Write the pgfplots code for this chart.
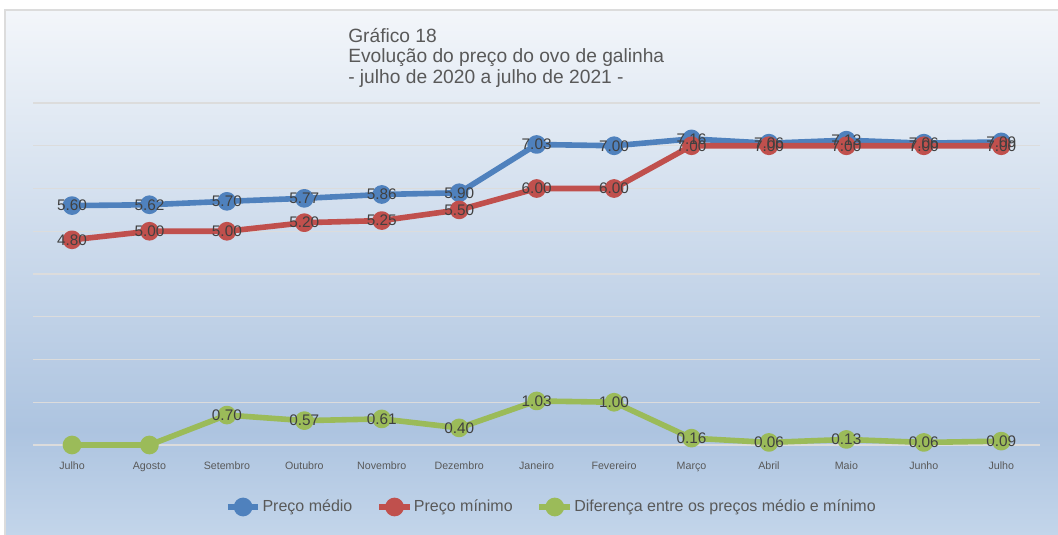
\documentclass[border=0pt]{standalone}
\usepackage{pgfplots}
\pgfplotsset{compat=1.18}
\usepackage{fontspec}
\setmainfont{Liberation Sans}
\definecolor{cblue}{HTML}{4F81BD}
\definecolor{cred}{HTML}{C0504D}
\definecolor{cgreen}{HTML}{9BBB59}
\definecolor{ctext}{HTML}{595959}
\definecolor{clabel}{HTML}{404040}
\definecolor{cgrid}{HTML}{DCDCDC}
\definecolor{bgtop}{HTML}{F3F6FA}
\definecolor{bgmid}{HTML}{ADC4E0}
\definecolor{bgbot}{HTML}{C3D5EA}
\begin{document}
\begin{tikzpicture}
\useasboundingbox (0,0) rectangle (793.5pt,401.25pt);
\fill[white] (0,0) rectangle (793.5pt,401.25pt);
\shade[top color=bgtop, bottom color=bgmid] (3.75pt,78.75pt) rectangle (793.5pt,393.75pt);
\shade[top color=bgmid, bottom color=bgbot] (3.75pt,0pt) rectangle (793.5pt,78.75pt);
\draw[cgrid, line width=1.5pt] (3.75pt,0pt) -- (3.75pt,393.75pt) -- (793.5pt,393.75pt);
\node[anchor=base west, inner sep=0pt, text=ctext, font=\fontsize{14.4}{16}\selectfont] at (261pt,369.5pt) {Gráfico 18};
\node[anchor=base west, inner sep=0pt, text=ctext, font=\fontsize{14.4}{16}\selectfont] at (261pt,354.0pt) {Evolução do preço do ovo de galinha};
\node[anchor=base west, inner sep=0pt, text=ctext, font=\fontsize{14.4}{16}\selectfont] at (261pt,338.5pt) {- julho de 2020 a julho de 2021 -};
\begin{axis}[
  at={(24.975pt,67.5pt)}, anchor=south west,
  scale only axis, width=755pt, height=256.5pt,
  xmin=-0.5, xmax=12.5, ymin=0, ymax=8,
  clip=false,
  axis line style={draw=none},
  major tick length=0pt,
  ytick={0,1,...,8}, yticklabels={},
  ymajorgrids, grid style={cgrid, line width=1pt},
  xtick={0,1,...,12},
  xticklabels={Julho,Agosto,Setembro,Outubro,Novembro,Dezembro,Janeiro,Fevereiro,Março,Abril,Maio,Junho,Julho},
  xticklabel style={font=\fontsize{8}{9}\selectfont, text=ctext, anchor=base, yshift=-18.5pt},
  legend style={at={(0.5143,-0.1813)}, anchor=center, draw=none, fill=none,
    font=\fontsize{12}{14}\selectfont, text=ctext, legend columns=3,
    nodes={inner xsep=1pt},
    /tikz/every even column/.append style={column sep=17pt}},
  legend image code/.code={\draw[mark repeat=2,mark phase=2,#1] plot coordinates {(0pt,0pt) (11.5pt,0pt) (23pt,0pt)};},
  every axis plot/.append style={line width=4.2pt, line join=round, mark=*, mark size=4.9pt},
  lab/.style={draw=none, mark=none, forget plot, point meta=y,
    nodes near coords={\pgfmathprintnumber[fixed,fixed zerofill,precision=2,assume math mode=true]{\pgfplotspointmeta}},
    every node near coord/.append style={anchor=center, inner sep=0pt, text=clabel, font=\fontsize{11.5}{13}\selectfont}},
]
\addplot[cblue, mark options={draw=none, fill=cblue}] coordinates {(0,5.60)(1,5.62)(2,5.70)(3,5.77)(4,5.86)(5,5.90)(6,7.03)(7,7.00)(8,7.16)(9,7.06)(10,7.13)(11,7.06)(12,7.09)};
\addlegendentry{Preço médio}
\addplot[cred, mark options={draw=none, fill=cred}] coordinates {(0,4.80)(1,5.00)(2,5.00)(3,5.20)(4,5.25)(5,5.50)(6,6.00)(7,6.00)(8,7.00)(9,7.00)(10,7.00)(11,7.00)(12,7.00)};
\addlegendentry{Preço mínimo}
\addplot[cgreen, mark options={draw=none, fill=cgreen}] coordinates {(0,0)(1,0)(2,0.70)(3,0.57)(4,0.61)(5,0.40)(6,1.03)(7,1.00)(8,0.16)(9,0.06)(10,0.13)(11,0.06)(12,0.09)};
\addlegendentry{Diferença entre os preços médio e mínimo}
\addplot[lab] coordinates {(0,5.60)(1,5.62)(2,5.70)(3,5.77)(4,5.86)(5,5.90)(6,7.03)(7,7.00)(8,7.16)(9,7.06)(10,7.13)(11,7.06)(12,7.09)};
\addplot[lab] coordinates {(0,4.80)(1,5.00)(2,5.00)(3,5.20)(4,5.25)(5,5.50)(6,6.00)(7,6.00)(8,7.00)(9,7.00)(10,7.00)(11,7.00)(12,7.00)};
\addplot[lab] coordinates {(2,0.70)(3,0.57)(4,0.61)(5,0.40)(6,1.03)(7,1.00)(8,0.16)(9,0.06)(10,0.13)(11,0.06)(12,0.09)};
\end{axis}
\end{tikzpicture}
\end{document}
